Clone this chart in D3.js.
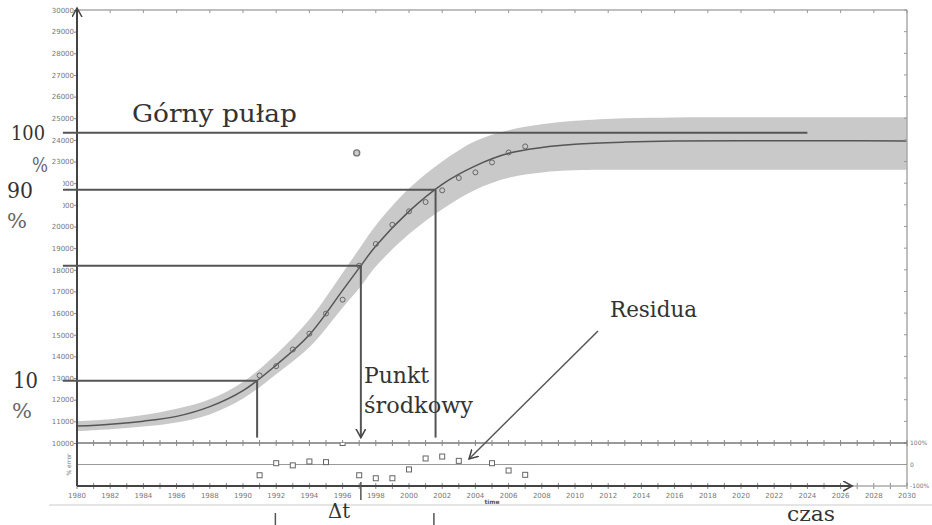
<!DOCTYPE html>
<html>
<head>
<meta charset="utf-8">
<script src="https://cdn.jsdelivr.net/npm/d3@7"></script>
<style>
  body { margin: 0; background: #fff; }
  .tick-label { font-family: "DejaVu Sans", sans-serif; font-size: 7px; fill: #777; }
  .note { font-family: "DejaVu Serif", serif; fill: #333; }
</style>
</head>
<body>
<div class="chart"></div>
<script>
// Logistic growth chart (Loglet-style) with residuals panel

// fitted curve
var fitYears = [1980, 1982, 1984, 1986, 1988, 1990, 1992, 1994, 1996, 1997.1, 1998, 2000, 2002, 2004, 2006, 2008, 2010, 2013, 2016, 2020, 2025, 2030];
var fitValues = [10780, 10870, 11010, 11230, 11680, 12420, 13600, 15000, 17050, 18190, 19100, 20700, 21950, 22800, 23380, 23650, 23800, 23900, 23950, 23960, 23960, 23950];
// confidence band edges
var bandUpper = [11010, 11100, 11290, 11580, 12020, 12820, 14100, 15700, 17850, 19080, 20050, 21750, 23000, 23950, 24450, 24720, 24880, 25000, 25040, 25050, 25050, 25050];
var bandLower = [10550, 10640, 10760, 10950, 11320, 12050, 13180, 14420, 16250, 17240, 18150, 19650, 20800, 21700, 22250, 22500, 22600, 22620, 22620, 22620, 22620, 22620];

// observed points
var obsYears = [1991, 1992, 1993, 1994, 1995, 1996, 1997, 1998, 1999, 2000, 2001, 2002, 2003, 2004, 2005, 2006, 2007];
var obsValues = [13120, 13550, 14320, 15050, 15980, 16620, 18190, 19190, 20080, 20700, 21130, 21670, 22240, 22500, 22960, 23420, 23700];
var outlierYear = 1996.85;
var outlierValue = 23400;

// residuals (% error)
var resYears = [1991, 1992, 1993, 1994, 1995, 1996, 1997, 1998, 1999, 2000, 2001, 2002, 2003, 2005, 2006, 2007];
var resValues = [-50, 6, -4, 14, 11, 100, -50, -64, -64, -23, 28, 37, 17, 6, -28, -48];

// tick values
var yTicks = d3.range(10000, 30001, 1000);
var xLabelYears = d3.range(1980, 2031, 2);
var xMinorYears = d3.range(1980, 2031, 1);
var resTicks = [100, 0, -100];
var resTickLabels = ["100%", "0", "-100%"];

// annotation values (levels and times)
var ceilingValue = 24330, ceilingEnd = 2024;
var p90Value = 21700, p90Year = 2001.6;
var midValue = 18190, midYear = 1997.1;
var p10Value = 12870, p10Year = 1990.85;
var lineStartYear = 1979.15, dropValue = 10250;
var dtStart = 1991.95, dtEnd = 2001.5;

var svgWidth = 932;
var svgHeight = 525;

var svg = d3.select(".chart")
    .append("svg")
    .attr("width", svgWidth)
    .attr("height", svgHeight);

var x = d3.scaleLinear().domain([1980, 2030]).range([77, 907]);
var y = d3.scaleLinear().domain([10000, 30000]).range([443, 10]);
var yRes = d3.scaleLinear().domain([-100, 100]).range([486, 443]);

// arrow head marker
var defs = svg.append("defs");
defs.append("marker")
    .attr("id", "arrow")
    .attr("markerUnits", "userSpaceOnUse")
    .attr("markerWidth", 14)
    .attr("markerHeight", 14)
    .attr("refX", 9)
    .attr("refY", 5)
    .attr("orient", "auto")
    .append("path")
    .attr("d", "M0,0 L9,5 L0,10")
    .attr("fill", "none")
    .attr("stroke", "#444")
    .attr("stroke-width", 1.5);

defs.append("clipPath")
    .attr("id", "resClip")
    .append("rect")
    .attr("x", 77).attr("y", 443)
    .attr("width", 830).attr("height", 43);

defs.append("clipPath")
    .attr("id", "mainClip")
    .append("rect")
    .attr("x", 77).attr("y", 10)
    .attr("width", 830).attr("height", 433);

// separator line below the chart
svg.append("line")
    .attr("x1", 49).attr("x2", 932)
    .attr("y1", 505).attr("y2", 505)
    .attr("stroke", "#ddd")
    .attr("stroke-width", 1.5);

// band
var fitData = fitYears.map((t, i) => ({t: t, v: fitValues[i], hi: bandUpper[i], lo: bandLower[i]}));

var area = d3.area()
    .x(d => x(d.t))
    .y0(d => y(d.lo))
    .y1(d => y(d.hi))
    .curve(d3.curveCatmullRom.alpha(0.5));

svg.append("path")
    .datum(fitData)
    .attr("clip-path", "url(#mainClip)")
    .attr("d", area)
    .attr("fill", "#c9c9c9");

// fitted curve
var line = d3.line()
    .x(d => x(d.t))
    .y(d => y(d.v))
    .curve(d3.curveCatmullRom.alpha(0.5));

svg.append("path")
    .datum(fitData)
    .attr("d", line)
    .attr("fill", "none")
    .attr("stroke", "#555")
    .attr("stroke-width", 1.5);

// frame: top and right (light)
svg.append("line")
    .attr("x1", x(1980)).attr("x2", x(2030))
    .attr("y1", y(30000)).attr("y2", y(30000))
    .attr("stroke", "#aaa").attr("stroke-width", 1.5);
svg.append("line")
    .attr("x1", x(2030)).attr("x2", x(2030))
    .attr("y1", y(30000)).attr("y2", yRes(-100))
    .attr("stroke", "#aaa").attr("stroke-width", 1.5);

// top ticks
svg.append("g").selectAll("line")
    .data(xLabelYears)
    .enter()
    .append("line")
    .attr("x1", d => x(d)).attr("x2", d => x(d))
    .attr("y1", y(30000)).attr("y2", y(30000) + 3)
    .attr("stroke", "#999");

// right ticks
svg.append("g").selectAll("line")
    .data(yTicks)
    .enter()
    .append("line")
    .attr("x1", x(2030) - 3).attr("x2", x(2030))
    .attr("y1", d => y(d)).attr("y2", d => y(d))
    .attr("stroke", "#999");

// left axis ticks and labels
var leftAxis = d3.axisLeft(y).tickValues(yTicks).tickSize(3).tickFormat(d3.format("d"));
var leftG = svg.append("g")
    .attr("transform", `translate(${x(1980)},0)`)
    .call(leftAxis);
leftG.select(".domain").remove();
leftG.selectAll("line").attr("stroke", "#888");
leftG.selectAll("text").attr("class", "tick-label").attr("x", -3);

// residual panel lines
svg.append("line")
    .attr("x1", x(1980)).attr("x2", x(2030))
    .attr("y1", yRes(100)).attr("y2", yRes(100))
    .attr("stroke", "#777").attr("stroke-width", 1.5);
svg.append("line")
    .attr("x1", x(1980)).attr("x2", x(2030))
    .attr("y1", yRes(0)).attr("y2", yRes(0))
    .attr("stroke", "#999").attr("stroke-width", 1.2);

// minor ticks on the 100% line and bottom axis
[yRes(100), yRes(-100)].forEach(function (yy) {
    svg.append("g").selectAll("line")
        .data(xMinorYears)
        .enter()
        .append("line")
        .attr("x1", d => x(d)).attr("x2", d => x(d))
        .attr("y1", yy - 3).attr("y2", yy + 3)
        .attr("stroke", "#888");
});

// bottom axis labels
svg.append("g").selectAll("text")
    .data(xLabelYears)
    .enter()
    .append("text")
    .attr("class", "tick-label")
    .attr("x", d => x(d))
    .attr("y", yRes(-100) + 12)
    .attr("text-anchor", "middle")
    .text(d => d);

// residual right labels
svg.append("g").selectAll("text")
    .data(resTicks)
    .enter()
    .append("text")
    .attr("class", "tick-label")
    .attr("x", x(2030) + 3)
    .attr("y", d => yRes(d) + 2)
    .style("font-size", "6px")
    .text((d, i) => resTickLabels[i]);

// small axis titles
svg.append("text")
    .attr("class", "tick-label")
    .attr("transform", `translate(${x(1980) - 6},${yRes(0)}) rotate(-90)`)
    .attr("text-anchor", "middle")
    .style("font-size", "6px")
    .text("% error");
svg.append("text")
    .attr("class", "tick-label")
    .attr("x", x(2005))
    .attr("y", yRes(-100) + 18)
    .attr("text-anchor", "middle")
    .style("font-size", "6px")
    .style("font-weight", "bold")
    .style("fill", "#555")
    .text("time");

// bottom axis (light part, then dark arrow)
svg.append("line")
    .attr("x1", x(1980)).attr("x2", x(2030))
    .attr("y1", yRes(-100)).attr("y2", yRes(-100))
    .attr("stroke", "#aaa").attr("stroke-width", 1.5);
svg.append("line")
    .attr("x1", x(1980)).attr("x2", x(2026.7))
    .attr("y1", yRes(-100)).attr("y2", yRes(-100))
    .attr("stroke", "#444").attr("stroke-width", 2)
    .attr("marker-end", "url(#arrow)");

// left axis with arrow
svg.append("line")
    .attr("x1", x(1980)).attr("x2", x(1980))
    .attr("y1", yRes(-100)).attr("y2", y(30000) - 2)
    .attr("stroke", "#444").attr("stroke-width", 2)
    .attr("marker-end", "url(#arrow)");

// observed points
svg.append("g").selectAll("circle")
    .data(obsYears)
    .enter()
    .append("circle")
    .attr("cx", d => x(d))
    .attr("cy", (d, i) => y(obsValues[i]))
    .attr("r", 2.5)
    .attr("fill", "none")
    .attr("stroke", "#666")
    .attr("stroke-width", 1);

svg.append("circle")
    .attr("cx", x(outlierYear))
    .attr("cy", y(outlierValue))
    .attr("r", 3)
    .attr("fill", "#ccc")
    .attr("stroke", "#777")
    .attr("stroke-width", 1.4);

// residual squares
svg.append("g")
    .attr("clip-path", "url(#resClip)")
    .selectAll("rect")
    .data(resYears)
    .enter()
    .append("rect")
    .attr("x", d => x(d) - 2.5)
    .attr("y", (d, i) => yRes(resValues[i]) - 2.5)
    .attr("width", 5)
    .attr("height", 5)
    .attr("fill", "#fff")
    .attr("stroke", "#666")
    .attr("stroke-width", 1);

// annotation lines
var ann = svg.append("g")
    .attr("stroke", "#555")
    .attr("stroke-width", 2)
    .attr("fill", "none");

ann.append("line")
    .attr("x1", x(lineStartYear)).attr("x2", x(ceilingEnd))
    .attr("y1", y(ceilingValue)).attr("y2", y(ceilingValue));

ann.append("line")
    .attr("x1", x(lineStartYear)).attr("x2", x(p90Year))
    .attr("y1", y(p90Value)).attr("y2", y(p90Value));
ann.append("line")
    .attr("x1", x(p90Year)).attr("x2", x(p90Year))
    .attr("y1", y(p90Value)).attr("y2", y(dropValue));

ann.append("line")
    .attr("x1", x(lineStartYear)).attr("x2", x(midYear))
    .attr("y1", y(midValue)).attr("y2", y(midValue));
ann.append("line")
    .attr("x1", x(midYear)).attr("x2", x(midYear))
    .attr("y1", y(midValue)).attr("y2", y(dropValue))
    .attr("marker-end", "url(#arrow)");

ann.append("line")
    .attr("x1", x(lineStartYear)).attr("x2", x(p10Year))
    .attr("y1", y(p10Value)).attr("y2", y(p10Value));
ann.append("line")
    .attr("x1", x(p10Year)).attr("x2", x(p10Year))
    .attr("y1", y(p10Value)).attr("y2", y(dropValue));

// short mark through the time axis at the midpoint
ann.append("line")
    .attr("x1", x(midYear)).attr("x2", x(midYear))
    .attr("y1", yRes(-100) - 4).attr("y2", yRes(-100) + 14)
    .attr("stroke-width", 1.5);

// delta t marks below the chart
[dtStart, dtEnd].forEach(function (t) {
    ann.append("line")
        .attr("x1", x(t)).attr("x2", x(t))
        .attr("y1", 513).attr("y2", 525)
        .attr("stroke-width", 1.5);
});

// residua arrow
ann.append("line")
    .attr("x1", 598).attr("y1", 331)
    .attr("x2", 469).attr("y2", 459)
    .attr("stroke-width", 1.5)
    .attr("marker-end", "url(#arrow)");

// white patch behind the 90 % label (hides part of tick labels)
svg.append("rect")
    .attr("x", 0).attr("y", 176)
    .attr("width", 63).attr("height", 36)
    .attr("fill", "#fff");

// text annotations
function note(str, tx, ty, size, len) {
    var t = svg.append("text")
        .attr("class", "note")
        .attr("x", tx)
        .attr("y", ty)
        .style("font-size", size + "px")
        .text(str);
    if (len) {
        t.attr("textLength", len).attr("lengthAdjust", "spacingAndGlyphs");
    }
    return t;
}

note("Górny pułap", 132, 122, 24, 165);
note("100", 11, 140, 21, 34);
note("%", 32, 172, 20, 16).style("fill", "#666");
note("90", 7, 198, 22, 26);
note("%", 7, 228, 21, 20).style("fill", "#666");
note("10", 13, 388, 22, 25);
note("%", 12, 418, 21, 20).style("fill", "#666");
note("Punkt", 364, 383, 22, 65);
note("środkowy", 364, 413, 22, 109);
note("Residua", 610, 317, 22, 87);
note("Δt", 328, 518, 20, 22);
note("czas", 787, 521, 20, 48);
</script>
</body>
</html>
